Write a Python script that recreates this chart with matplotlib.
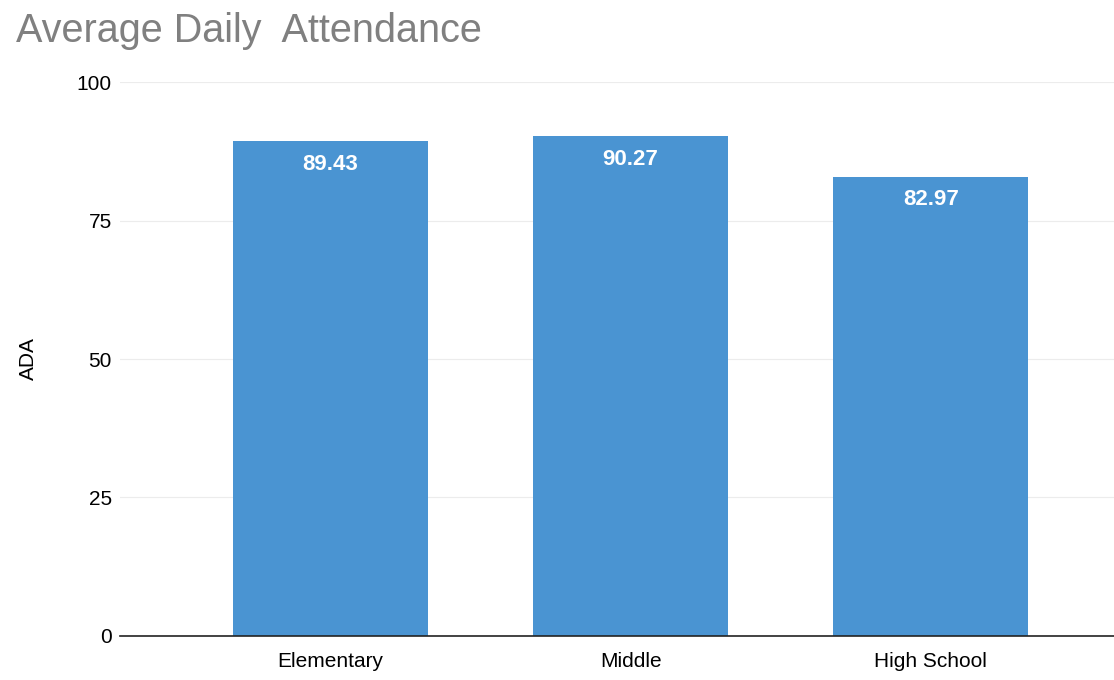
import matplotlib.pyplot as plt

plt.rcParams['font.family'] = ['Liberation Sans', 'DejaVu Sans']

# Data
schools = ['Elementary', 'Middle', 'High School']
ada = [89.43, 90.27, 82.97]
y_ticks = [0, 25, 50, 75, 100]

fig = plt.figure(figsize=(11.14, 6.8), dpi=100)
ax = fig.add_axes([0.108, 0.065, 0.892, 0.814])

# Bars
x = range(len(schools))
bars = ax.bar(x, ada, width=0.65, color='#4a94d2', zorder=2)

# Value labels inside the top of each bar
for xi, v in zip(x, ada):
    ax.text(xi, v - 2.3, f'{v:.2f}', ha='center', va='top',
            color='white', fontsize=16, fontweight='bold', zorder=3)

ax.set_xlim(-0.7, 2.61)
ax.set_ylim(0, 100)
ax.set_yticks(y_ticks)
ax.set_xticks(list(x))
ax.set_xticklabels(schools, fontsize=15)
ax.tick_params(axis='y', labelsize=15, length=0, pad=6)
ax.tick_params(axis='x', length=0, pad=12)

# Grid
ax.grid(axis='y', color='#ececec', linewidth=0.8, zorder=0)
for s in ['top', 'right', 'left']:
    ax.spines[s].set_visible(False)
ax.spines['bottom'].set_color('#222222')
ax.spines['bottom'].set_linewidth(1.2)

ax.set_ylabel('ADA', fontsize=15, labelpad=28)

fig.text(0.014, 0.955, 'Average Daily  Attendance', fontsize=28.5, color='#808080',
         ha='left', va='center')

plt.savefig('out.png', dpi=100)
